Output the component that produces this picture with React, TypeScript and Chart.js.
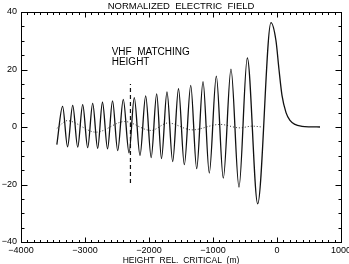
import React, { useEffect, useRef } from "react";
import { Chart, registerables } from "chart.js";

Chart.register(...registerables);

const CHART_TITLE = "NORMALIZED  ELECTRIC  FIELD";
const X_TITLE = "HEIGHT  REL.  CRITICAL  (m)";
const MARKER_TEXT = ["VHF  MATCHING", "HEIGHT"];

const X_TICKS = [-4000, -3000, -2000, -1000, 0, 1000];
const Y_TICKS = [-40, -20, 0, 20, 40];
const X_MINOR_STEP = 100;
const Y_MINOR_STEP = 5;

// Standing-wave field: successive turning points, then the evanescent tail
const FIELD_X = [
  -3440, -3350, -3273, -3192, -3114, -3036, -2958, -2880, -2802, -2727,
  -2648, -2570, -2489, -2402, -2312, -2230, -2141, -2052, -1966, -1880,
  -1805, -1719, -1630, -1539, -1448, -1348, -1255, -1156, -1058, -948,
  -839, -719, -594, -464, -302, -94, -16, 31, 78, 141, 203, 281, 391, 516, 672,
];
const FIELD_Y = [
  -6.1, 7.2, -6.9, 7.5, -7.0, 7.8, -7.2, 8.2, -7.4, 8.6,
  -7.6, 9.1, -8.2, 9.6, -9.0, 10.2, -9.9, 10.8, -10.6, 11.5,
  -11.0, 12.2, -12.0, 13.3, -13.1, 14.5, -14.5, 15.8, -16.0, 17.7,
  -17.8, 20.1, -20.9, 24.0, -26.7, 36.3, 30, 20, 11, 5, 2.3, 0.9, 0.25, 0.05, 0,
];

// Weak secondary component (dotted)
const DOTTED_X = [-3440, -3281, -2828, -2380, -1969, -1703, -1328, -891, -578, -391, -234];
const DOTTED_Y = [-0.5, 2.2, -1.8, 1.9, -1.2, 1.4, -1.0, 0.9, -0.3, 0.3, 0];

// VHF matching height marker
const MATCH_HEIGHT = -2290;
const MATCH_Y = [-19.5, 15];
const MARKER_TEXT_X = -2583;
const MARKER_TEXT_Y = 25;

const FONT = "'Liberation Sans', Arial, Helvetica, sans-serif";

const framePlugin = {
  id: "frame",
  afterDraw(chart: any) {
    const ctx = chart.ctx as CanvasRenderingContext2D;
    const a = chart.chartArea;
    const xs = chart.scales.x;
    const ys = chart.scales.y;
    const snap = (v: number) => Math.round(v) + 0.5;
    const L = snap(a.left);
    const R = snap(a.right);
    const T = snap(a.top);
    const B = snap(a.bottom);
    ctx.save();
    ctx.setLineDash([]);
    ctx.globalAlpha = 1;
    ctx.globalCompositeOperation = "source-over";
    ctx.strokeStyle = "#000000";
    ctx.lineWidth = 1;
    ctx.strokeRect(L, T, R - L, B - T);

    // inward ticks on all four sides
    ctx.beginPath();
    const x0 = X_TICKS[0];
    const x1 = X_TICKS[X_TICKS.length - 1];
    for (let v = x0; v <= x1; v += X_MINOR_STEP) {
      const len = X_TICKS.includes(v) ? 5 : 2.5;
      const x = snap(xs.getPixelForValue(v));
      ctx.moveTo(x, B);
      ctx.lineTo(x, B - len);
      ctx.moveTo(x, T);
      ctx.lineTo(x, T + len);
    }
    const y0 = Y_TICKS[0];
    const y1 = Y_TICKS[Y_TICKS.length - 1];
    for (let v = y0; v <= y1; v += Y_MINOR_STEP) {
      const len = Y_TICKS.includes(v) ? 6 : 3;
      const y = snap(ys.getPixelForValue(v));
      ctx.moveTo(L, y);
      ctx.lineTo(L + len, y);
      ctx.moveTo(R, y);
      ctx.lineTo(R - len, y);
    }
    ctx.stroke();

    ctx.fillStyle = "#000";
    ctx.textAlign = "center";
    ctx.textBaseline = "alphabetic";
    const cx = (a.left + a.right) / 2;
    ctx.font = `9.5px ${FONT}`;
    ctx.fillText(CHART_TITLE, cx, 8.5);
    ctx.font = `8.5px ${FONT}`;
    ctx.fillText(X_TITLE, cx, 262.5);

    ctx.textAlign = "left";
    ctx.font = `10px ${FONT}`;
    const tx = xs.getPixelForValue(MARKER_TEXT_X);
    const ty = ys.getPixelForValue(MARKER_TEXT_Y);
    MARKER_TEXT.forEach((t, i) => ctx.fillText(t, tx, ty + i * 9.5));
    ctx.restore();
  },
};

const minusSign = (v: any) => String(v).replace("-", "\u2212");

export default function App() {
  const canvasRef = useRef<HTMLCanvasElement | null>(null);

  useEffect(() => {
    const canvas = canvasRef.current;
    if (!canvas) return;
    const chart = new Chart(canvas, {
      type: "line",
      data: {
        datasets: [
          {
            data: FIELD_X.map((x, i) => ({ x, y: FIELD_Y[i] })),
            borderColor: "#111",
            borderWidth: 1.3,
            pointRadius: 0,
            cubicInterpolationMode: "monotone",
            fill: false,
          },
          {
            data: DOTTED_X.map((x, i) => ({ x, y: DOTTED_Y[i] })),
            borderColor: "#333",
            borderWidth: 1,
            borderDash: [1, 2],
            pointRadius: 0,
            cubicInterpolationMode: "monotone",
            fill: false,
          },
          {
            data: MATCH_Y.map((y) => ({ x: MATCH_HEIGHT, y })),
            borderColor: "#111",
            borderWidth: 1.2,
            borderDash: [4, 3],
            pointRadius: 0,
            tension: 0,
            fill: false,
          },
        ],
      },
      options: {
        animation: false,
        responsive: false,
        events: [],
        layout: { padding: { left: 0, right: 8, top: 12, bottom: 0 } },
        plugins: {
          legend: { display: false },
          tooltip: { enabled: false },
          title: { display: false },
        },
        scales: {
          x: {
            type: "linear",
            min: X_TICKS[0],
            max: X_TICKS[X_TICKS.length - 1],
            grid: { display: false, drawTicks: false },
            border: { display: false },
            afterBuildTicks: (s: any) => {
              s.ticks = X_TICKS.map((value) => ({ value }));
            },
            afterFit: (s: any) => {
              s.height = 22;
              s.paddingLeft = 0;
              s.paddingRight = 0;
            },
            ticks: {
              autoSkip: false,
              maxRotation: 0,
              padding: 3,
              color: "#000",
              font: { family: FONT, size: 9 },
              callback: minusSign,
            },
          },
          y: {
            type: "linear",
            min: Y_TICKS[0],
            max: Y_TICKS[Y_TICKS.length - 1],
            grid: { display: false, drawTicks: false },
            border: { display: false },
            afterBuildTicks: (s: any) => {
              s.ticks = Y_TICKS.map((value) => ({ value }));
            },
            afterFit: (s: any) => {
              s.width = 21;
              s.paddingTop = 0;
              s.paddingBottom = 0;
            },
            ticks: {
              autoSkip: false,
              padding: 4,
              color: "#000",
              font: { family: FONT, size: 9 },
              callback: minusSign,
            },
          },
        },
      },
      plugins: [framePlugin],
    });
    return () => chart.destroy();
  }, []);

  return (
    <div style={{ position: "fixed", left: 0, top: 0, width: 349, height: 264, background: "#fff" }}>
      <canvas ref={canvasRef} width={349} height={264} style={{ display: "block" }} />
    </div>
  );
}
